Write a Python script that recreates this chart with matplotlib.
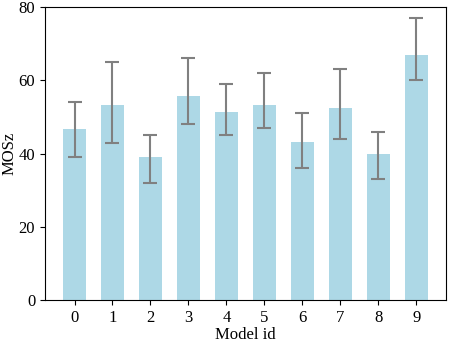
import matplotlib
matplotlib.use("Agg")
import matplotlib.pyplot as plt
import numpy as np

plt.rcParams["font.family"] = ["Liberation Serif", "DejaVu Serif"]

model_ids = [0, 1, 2, 3, 4, 5, 6, 7, 8, 9]
mos = [46.8, 53.3, 39.1, 55.7, 51.2, 53.3, 43.2, 52.3, 40.0, 66.9]
ci_low = [39, 43, 32, 48, 45, 47, 36, 44, 33, 60]
ci_high = [54, 65, 45, 66, 59, 62, 51, 63, 46, 77]
y_ticks = [0, 20, 40, 60, 80]

mos_arr = np.array(mos)
yerr = [mos_arr - np.array(ci_low), np.array(ci_high) - mos_arr]

fig, ax = plt.subplots(figsize=(4.49, 3.42), dpi=100)
ax.bar(model_ids, mos, width=0.6, color="lightblue", yerr=yerr,
       error_kw=dict(ecolor="gray", elinewidth=1.5, capsize=5, capthick=1.5))
ax.set_ylim(0, 80)
ax.set_yticks(y_ticks)
ax.set_xticks(model_ids)
ax.set_xlabel("Model id", fontsize=12, labelpad=1)
ax.set_ylabel("MOSz", fontsize=12, labelpad=1)
ax.tick_params(labelsize=12)
plt.subplots_adjust(left=0.100, right=0.993, bottom=0.122, top=0.980)
plt.savefig("out.png", dpi=100)
plt.close()
